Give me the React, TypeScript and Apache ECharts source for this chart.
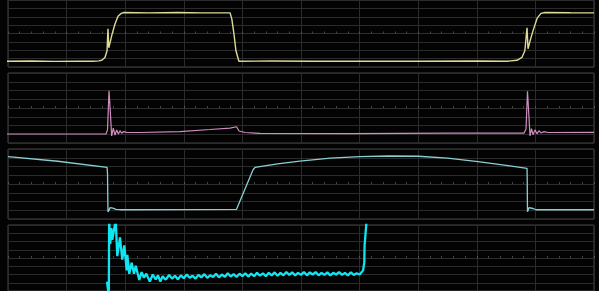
import React, { useEffect, useRef } from "react";
import * as echarts from "echarts";

// x in screen divisions (0..10), y in vertical divisions (-4..4, centre = 0)
const ch1: number[][] = [
  [-0.085, -3.31], [0.4, -3.29], [0.8, -3.33], [1.2, -3.3], [1.45, -3.31], [1.55, -3.27], [1.6, -3.2],
  [1.655, -2.86], [1.69, -2.06], [1.706, 0.57], [1.72, -1.71], [1.74, -1.14], [1.775, -0.11], [1.826, 1.14],
  [1.877, 2.06], [1.93, 2.4], [1.98, 2.51], [2.4, 2.46], [2.9, 2.5], [3.3, 2.46], [3.79, 2.46], [3.82, 1.71],
  [3.857, -0.11], [3.89, -2.06], [3.94, -3.31], [4.5, -3.29], [5.2, -3.32], [6, -3.3], [7, -3.31], [8, -3.29],
  [8.515, -3.31], [8.686, -3.2], [8.77, -2.86], [8.82, -2.06], [8.857, 0.69], [8.874, -1.83], [8.908, -0.91],
  [8.96, 0.34], [9.03, 1.83], [9.096, 2.4], [9.164, 2.51], [9.6, 2.47], [10, 2.46],
];

const ch2: number[][] = [
  [-0.085, -2.97], [0.887, -2.97], [1.672, -2.97], [1.698, -2.5], [1.724, 1.98], [1.752, -1.14], [1.769, -3.2],
  [1.797, -2.29], [1.826, -3.09], [1.855, -2.51], [1.884, -2.97], [1.911, -2.59], [1.94, -2.89], [1.968, -2.71],
  [2.026, -2.78], [2.253, -2.8], [2.935, -2.69], [3.447, -2.46], [3.788, -2.29], [3.9, -2.14], [3.942, -2.63],
  [4.044, -2.8], [4.3, -2.91], [5.836, -2.92], [7.54, -2.88], [8.805, -2.87], [8.84, -2.4], [8.865, 1.9],
  [8.89, -1.0], [8.908, -3.2], [8.933, -2.35], [8.959, -3.05], [8.993, -2.5], [9.027, -2.95], [9.06, -2.6],
  [9.096, -2.85], [9.147, -2.7], [9.215, -2.8], [10, -2.78],
];

const ch3: number[][] = [
  [0, 3.12], [0.85, 2.6], [1.69, 1.91], [1.698, 1.2], [1.706, -3.2], [1.724, -3.0], [1.74, -2.71], [1.79, -2.75],
  [1.843, -2.9], [1.911, -2.94], [3.9, -2.89], [4.18, 1.6], [4.215, 1.91], [4.6, 2.3], [4.98, 2.62], [5.5, 2.95],
  [6.0, 3.13], [6.5, 3.2], [7.0, 3.17], [7.5, 2.95], [8.02, 2.55], [8.5, 2.12], [8.857, 1.79], [8.86, 0.7],
  [8.865, -3.16], [8.89, -2.71], [8.96, -2.8], [9.01, -2.94], [10, -2.94],
];

const ch4: number[][] = [
  [1.689, -2.86], [1.72, -4.6], [1.726, 4.6], [1.745, 1.71], [1.764, 3.62], [1.78, 2.2], [1.838, 4.6],
  [1.865, 0.23], [1.911, 2.51], [1.95, -0.19], [1.985, 1.52], [2.026, -1.49], [2.036, 0.38], [2.07, -1.91],
  [2.11, -0.57], [2.15, -1.91], [2.18, -0.95], [2.24, -2.66], [2.28, -1.71], [2.32, -2.4], [2.36, -1.9],
  [2.42, -2.86], [2.47, -2.0], [2.52, -2.6], [2.56, -2.1], [2.6, -2.86], [2.64, -2.2], [2.68, -2.6],
  [2.7, -2.55], [2.75, -2.05], [2.8, -2.5], [2.85, -2.15], [2.9, -2.6], [2.95, -2.1], [3.0, -2.45], [3.05, -2.0],
  [3.1, -2.4], [3.15, -2.15], [3.2, -2.5], [3.25, -2.05], [3.3, -2.35], [3.35, -1.95], [3.4, -2.4], [3.45, -2.1],
  [3.5, -2.3], [3.55, -1.9], [3.6, -2.35], [3.65, -2.0], [3.7, -2.3], [3.75, -1.85], [3.8, -2.25], [3.85, -1.95],
  [3.9, -2.3], [3.95, -1.9], [4.0, -2.2], [4.05, -1.85], [4.1, -2.25], [4.15, -1.9], [4.2, -2.2], [4.25, -1.8],
  [4.3, -2.15], [4.35, -1.85], [4.4, -2.2], [4.45, -1.8], [4.5, -2.1], [4.55, -1.75], [4.6, -2.15], [4.65, -1.8],
  [4.7, -2.1], [4.75, -1.7], [4.8, -2.05], [4.85, -1.75], [4.9, -2.1], [4.95, -1.8], [5.0, -2.05], [5.05, -1.7],
  [5.1, -2.1], [5.15, -1.75], [5.2, -2.0], [5.25, -1.7], [5.3, -2.1], [5.35, -1.8], [5.4, -2.05], [5.45, -1.75],
  [5.5, -2.1], [5.55, -1.8], [5.6, -2.0], [5.65, -1.7], [5.7, -2.05], [5.75, -1.8], [5.8, -2.1], [5.85, -1.75],
  [5.9, -2.05], [5.95, -1.85], [6.0, -2.0], [6.06, -1.5], [6.08, -0.5], [6.085, 1.52], [6.12, 4.6],
];

const traces = [ch1, ch2, ch3, ch4];
const traceColors = ["#dcdc98", "#cf8ec0", "#8ccfd2", "#10e6f2"];
const traceWidths = [1.4, 1.2, 1.3, 2.3];
const panelTops = [-3, 73, 149, 225];

export default function App() {
  const ref = useRef<HTMLDivElement>(null);
  useEffect(() => {
    if (!ref.current) return;
    const chart = echarts.init(ref.current, undefined, { renderer: "svg" });
    const hidden = { show: false };
    chart.setOption({
      animation: false,
      backgroundColor: "#030303",
      grid: panelTops.map((top) => ({
        left: 8,
        right: 5,
        top,
        height: 70,
        show: true,
        borderColor: "#474747",
        borderWidth: 1,
        backgroundColor: "transparent",
      })),
      xAxis: panelTops.map((_, i) => ({
        type: "value",
        gridIndex: i,
        min: 0,
        max: 10,
        interval: 1,
        axisLabel: hidden,
        axisLine: {
          show: true,
          onZero: true,
          lineStyle: { color: "#2e2e2e" },
        },
        axisTick: { show: true, inside: true, length: 2, lineStyle: { color: "#555" } },
        minorTick: { show: true, splitNumber: 5, length: 2, lineStyle: { color: "#444" } },
        splitLine: { show: true, lineStyle: { color: "#2b2b2b", width: 1 } },
      })),
      yAxis: panelTops.map((_, i) => ({
        type: "value",
        gridIndex: i,
        min: -4,
        max: 4,
        interval: 1,
        axisLabel: hidden,
        axisLine: hidden,
        axisTick: hidden,
        splitLine: { show: true, lineStyle: { color: "#2b2b2b", width: 1 } },
      })),
      series: traces.map((data, i) => ({
        type: "line",
        xAxisIndex: i,
        yAxisIndex: i,
        data,
        symbol: "none",
        showSymbol: false,
        clip: i === 3,
        lineStyle: { color: traceColors[i], width: traceWidths[i] },
        silent: true,
      })),
    });
    return () => chart.dispose();
  }, []);
  return (
    <div
      ref={ref}
      style={{ position: "fixed", left: 0, top: 0, width: 599, height: 291, background: "#030303" }}
    />
  );
}
